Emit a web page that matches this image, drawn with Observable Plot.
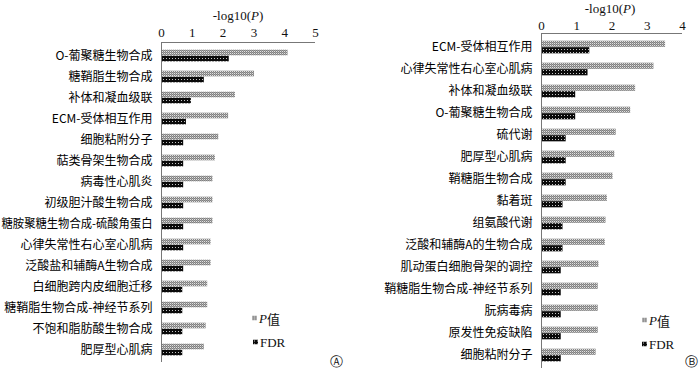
<!DOCTYPE html>
<html><head><meta charset="utf-8">
<script src="https://cdn.jsdelivr.net/npm/d3@7"></script>
<script src="https://cdn.jsdelivr.net/npm/@observablehq/plot@0.6"></script>
<style>
body{margin:0;background:#fff;width:700px;height:370px;position:relative;overflow:hidden;font-family:"Noto Sans CJK SC",sans-serif;color:#111;}
.panel{position:absolute;top:0;width:350px;height:370px;}
.t{position:absolute;white-space:nowrap;transform:translate(-50%,-50%);font-family:"Liberation Serif",serif;font-size:13px;line-height:1;}
.l{position:absolute;white-space:nowrap;transform:translate(0,-50%);font-family:"Liberation Serif",serif;font-size:13px;line-height:1;display:flex;align-items:center;}
.l svg{margin-right:2px;}
.cjk{font-family:"Noto Sans CJK SC",sans-serif;font-size:13px;}
</style></head><body>
<svg width="0" height="0" style="position:absolute;left:0;top:0">
<defs>
<pattern id="patP" width="2" height="2" patternUnits="userSpaceOnUse">
<rect width="2" height="2" fill="#e2e2e2"/><rect x="0" y="0" width="1" height="1" fill="#7e7e7e"/><rect x="1" y="0" width="1" height="1" fill="#a2a2a2"/><rect x="1" y="1" width="1" height="1" fill="#858585"/>
</pattern>
<pattern id="patF" width="3" height="3" patternUnits="userSpaceOnUse">
<rect width="3" height="3" fill="#0a0a0a"/><rect x="1" y="1" width="1" height="1" fill="#c8c8c8"/>
</pattern>
</defs></svg>
<div id="pa" class="panel" style="left:0"></div>
<div id="pb" class="panel" style="left:350px"></div>
<div class="t" style="left:238px;top:15px">-log10(<i>P</i>)</div>
<div class="t" style="left:610px;top:8px">-log10(<i>P</i>)</div>
<div class="l" style="left:252px;top:318px"><svg width="5" height="5"><rect width="5" height="5" fill="url(#patP)"/></svg><i>P</i><span class="cjk">值</span></div>
<div class="l" style="left:253px;top:342px"><svg width="5" height="5"><rect width="5" height="5" fill="url(#patF)"/></svg>FDR</div>
<div class="l" style="left:642px;top:320px"><svg width="5" height="5"><rect width="5" height="5" fill="url(#patP)"/></svg><i>P</i><span class="cjk">值</span></div>
<div class="l" style="left:642px;top:344px"><svg width="5" height="5"><rect width="5" height="5" fill="url(#patF)"/></svg>FDR</div>
<div class="t" style="left:336px;top:361px;font-family:'DejaVu Sans';font-size:13px">Ⓐ</div>
<div class="t" style="left:691px;top:361px;font-family:'DejaVu Sans';font-size:13px">Ⓑ</div>
<script>
const catsA = ["O-葡聚糖生物合成","糖鞘脂生物合成","补体和凝血级联","ECM-受体相互作用","细胞粘附分子","萜类骨架生物合成","病毒性心肌炎","初级胆汁酸生物合成","糖胺聚糖生物合成-硫酸角蛋白","心律失常性右心室心肌病","泛酸盐和辅酶A生物合成","白细胞跨内皮细胞迁移","糖鞘脂生物合成-神经节系列","不饱和脂肪酸生物合成","肥厚型心肌病"];
const pA   = [4.11,3.02,2.40,2.18,1.86,1.75,1.67,1.67,1.67,1.61,1.61,1.50,1.50,1.45,1.39];
const fdrA = [2.20,1.39,0.97,0.81,0.72,0.72,0.72,0.72,0.72,0.72,0.72,0.69,0.69,0.69,0.69];
const catsB = ["ECM-受体相互作用","心律失常性右心室心肌病","补体和凝血级联","O-葡聚糖生物合成","硫代谢","肥厚型心肌病","鞘糖脂生物合成","黏着斑","组氨酸代谢","泛酸和辅酶A的生物合成","肌动蛋白细胞骨架的调控","鞘糖脂生物合成-神经节系列","朊病毒病","原发性免疫缺陷","细胞粘附分子"];
const pB   = [3.52,3.19,2.67,2.53,2.12,2.08,2.03,1.87,1.83,1.81,1.63,1.61,1.61,1.61,1.55];
const fdrB = [1.37,1.32,0.97,0.97,0.70,0.70,0.70,0.61,0.61,0.61,0.56,0.56,0.56,0.56,0.56];
const ticksA = [0,1,2,3,4,5];
const ticksB = [0,1,2,3,4];

function panel(el, cats, p, fdr, ticks, o) {
  const rows = cats.map((c, i) => ({cat: c, p: p[i], fdr: fdr[i]}));
  const step = (370 - o.mt - o.mb) / cats.length;
  const chart = Plot.plot({
    width: 350, height: 370,
    marginLeft: o.ml, marginRight: o.mr, marginTop: o.mt, marginBottom: o.mb,
    style: {background: "transparent", overflow: "visible"},
    x: {domain: [ticks[0], ticks[ticks.length - 1]]},
    y: {domain: cats, padding: 0},
    marks: [
      Plot.barX(rows, {y: "cat", x: "p", fill: "url(#patP)", insetTop: step / 2 - o.bh, insetBottom: step / 2}),
      Plot.barX(rows, {y: "cat", x: "fdr", fill: "url(#patF)", insetTop: step / 2, insetBottom: step / 2 - o.bh}),
      Plot.ruleX([0], {stroke: "#777", strokeWidth: 1}),
      Plot.axisX({anchor: "top", ticks, tickFormat: d3.format("d"), tickSize: 0, tickPadding: o.tp, label: null, fontSize: 13, fontFamily: "Liberation Serif", fill: "#111"}),
      Plot.axisY({tickSize: 0, tickPadding: 9, label: null, fontSize: 12, fontFamily: "Noto Sans CJK SC", fill: "#000"})
    ]
  });
  el.appendChild(chart);
  const xs = chart.scale("x");
  d3.select(chart).append("line")
    .attr("x1", xs.apply(ticks[0])).attr("x2", xs.apply(ticks[ticks.length - 1]))
    .attr("y1", o.mt + 0.5).attr("y2", o.mt + 0.5)
    .attr("stroke", "#777");
  const maxW = o.ml - 10;
  d3.select(chart).selectAll("g[aria-label='y-axis tick label'] text").each(function() {
    if (this.getComputedTextLength() > maxW) {
      this.setAttribute("textLength", maxW);
      this.setAttribute("lengthAdjust", "spacingAndGlyphs");
    }
  });
}
panel(document.getElementById("pa"), catsA, pA, fdrA, ticksA, {ml: 161, mr: 35, mt: 42, mb: 8, bh: 6, tp: 6});
panel(document.getElementById("pb"), catsB, pB, fdrB, ticksB, {ml: 191, mr: 18, mt: 33, mb: 2, bh: 6.5, tp: 4});
</script>
</body></html>
